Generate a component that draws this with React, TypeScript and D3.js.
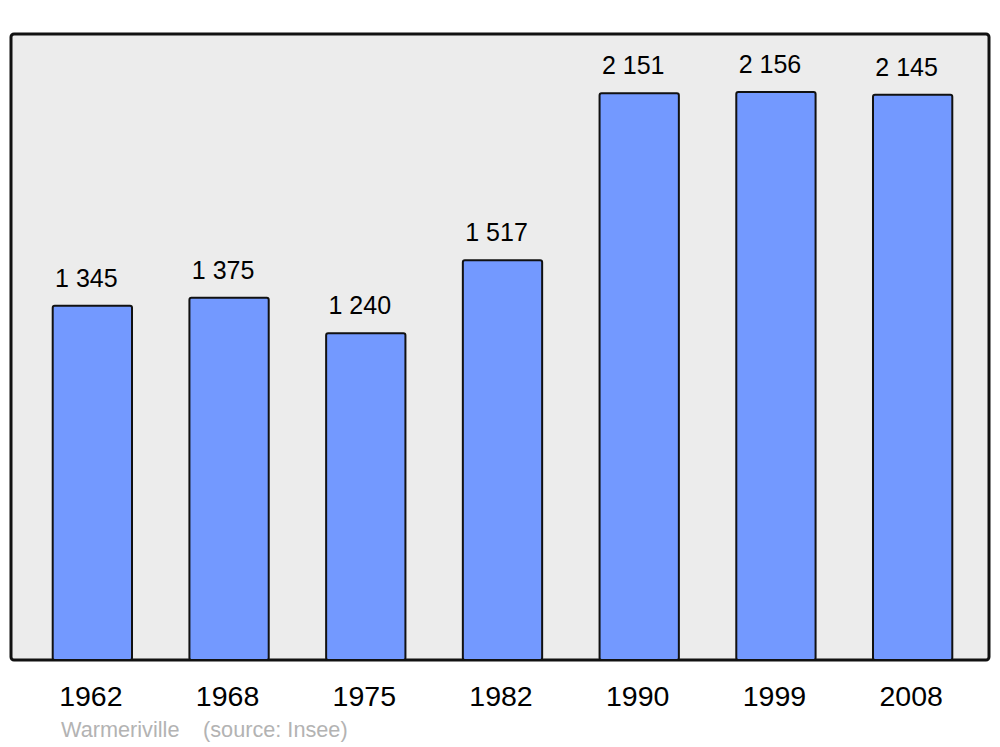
import React from 'react';
import * as d3 from 'd3';

const years = ['1962', '1968', '1975', '1982', '1990', '1999', '2008'];
const population = [1345, 1375, 1240, 1517, 2151, 2156, 2145];
const townName = 'Warmeriville';
const sourceNote = '(source: Insee)';

const width = 1000;
const height = 747;
const frame = { left: 11, right: 989, top: 34, bottom: 660 };

const formatValue = (v: number) => d3.format(',')(v).replace(/,/g, ' ');

const App = () => {
  const x = d3
    .scaleBand<string>()
    .domain(years)
    .range([24, 981])
    .paddingInner(0.42)
    .paddingOuter(0.21);

  const y = d3
    .scaleLinear()
    .domain([0, 2376])
    .range([frame.bottom, frame.top]);

  const font = '"Liberation Sans", Arial, sans-serif';

  return (
    <svg
      width={width}
      height={height}
      style={{ position: 'absolute', left: 0, top: 0 }}
      fontFamily={font}
    >
      <rect width={width} height={height} fill="#ffffff" />
      <rect
        x={frame.left}
        y={frame.top}
        width={frame.right - frame.left}
        height={frame.bottom - frame.top}
        rx={3}
        fill="#ececec"
        stroke="#111111"
        strokeWidth={3}
      />
      {years.map((yr, i) => {
        const v = population[i];
        const bx = x(yr)!;
        const bw = x.bandwidth();
        return (
          <g key={yr}>
            <rect
              x={bx}
              y={y(v)}
              width={bw}
              height={frame.bottom - y(v)}
              rx={2}
              fill="#7399ff"
              stroke="#111111"
              strokeWidth={2}
            />
            <text
              x={bx + bw / 2 - 6}
              y={y(v) - 19}
              textAnchor="middle"
              fontSize={25}
              fill="#000"
            >
              {formatValue(v)}
            </text>
            <text
              x={bx + bw / 2 - 1.5}
              y={705.5}
              textAnchor="middle"
              fontSize={28.5}
              fill="#000"
            >
              {yr}
            </text>
          </g>
        );
      })}
      <text x={61} y={737} fontSize={21.7} fill="#b3b3b3">
        {townName}
      </text>
      <text x={203} y={737} fontSize={21.7} fill="#b3b3b3">
        {sourceNote}
      </text>
    </svg>
  );
};

export default App;
